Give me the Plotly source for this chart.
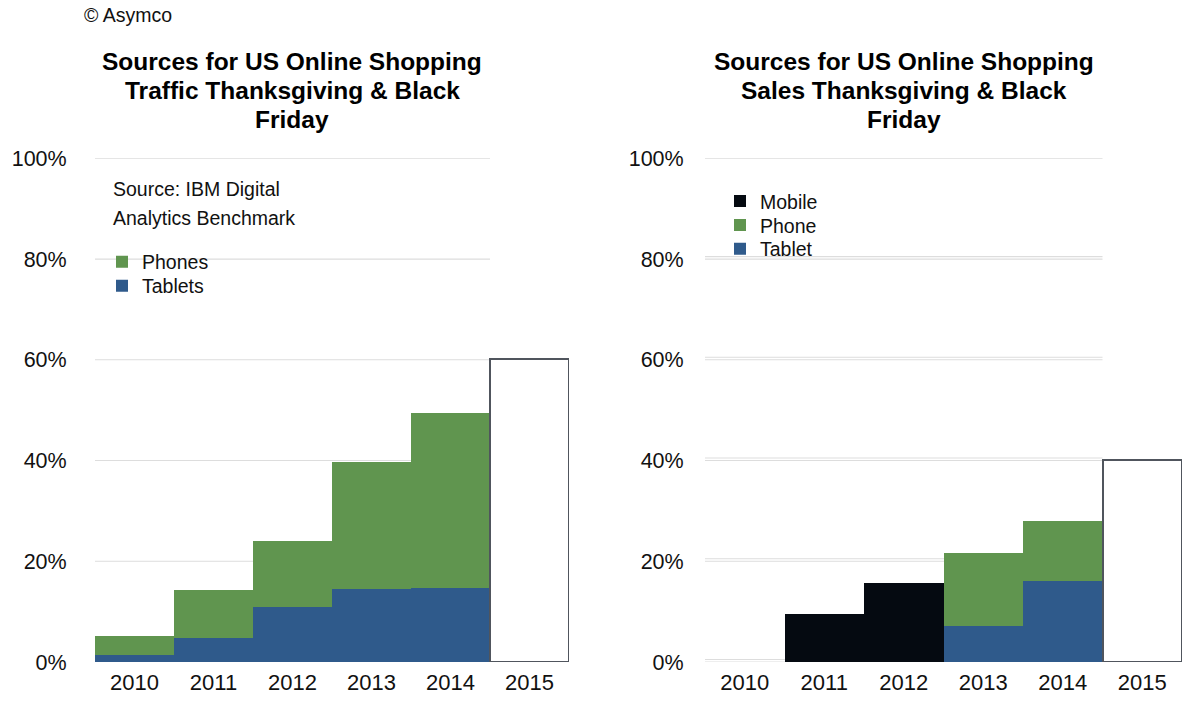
import plotly.graph_objects as go

years = ["2010", "2011", "2012", "2013", "2014", "2015"]

# Left chart: traffic share (%)
traffic_phones = [3.8, 9.4, 13.0, 25.1, 34.7, None]
traffic_tablets = [1.4, 4.8, 10.9, 14.5, 14.7, None]
traffic_2015 = [None, None, None, None, None, 60]

# Right chart: sales share (%)
sales_mobile = [None, 9.5, 15.7, None, None, None]
sales_phone = [None, None, None, 14.5, 11.8, None]
sales_tablet = [None, None, None, 7.1, 16.1, None]
sales_2015 = [None, None, None, None, None, 40]

grid_vals = [0, 20, 40, 60, 80, 100]
tick_text = ["0%", "20%", "40%", "60%", "80%", "100%"]

GREEN = "#60954f"
BLUE = "#2f5a8b"
BLACK = "#050a11"
OUTLINE = "#50555d"
FONT = "Liberation Sans, Arial, Helvetica, sans-serif"

fig = go.Figure()

# Left
fig.add_trace(go.Bar(x=years, y=traffic_tablets, name="Tablets", marker=dict(color=BLUE, line=dict(width=0)),
                     xaxis="x", yaxis="y", legend="legend2"))
fig.add_trace(go.Bar(x=years, y=traffic_phones, name="Phones", marker=dict(color=GREEN, line=dict(width=0)),
                     xaxis="x", yaxis="y", legend="legend"))
fig.add_trace(go.Bar(x=years, y=traffic_2015, name="2015", showlegend=False,
                     marker=dict(color="white", line=dict(color=OUTLINE, width=2.5)),
                     xaxis="x", yaxis="y"))

# Right
fig.add_trace(go.Bar(x=years, y=sales_mobile, name="Mobile", marker=dict(color=BLACK, line=dict(width=0)),
                     xaxis="x2", yaxis="y2", legend="legend3"))
fig.add_trace(go.Bar(x=years, y=sales_tablet, name="Tablet", marker=dict(color=BLUE, line=dict(width=0)),
                     xaxis="x2", yaxis="y2", legend="legend5"))
fig.add_trace(go.Bar(x=years, y=sales_phone, name="Phone", marker=dict(color=GREEN, line=dict(width=0)),
                     xaxis="x2", yaxis="y2", legend="legend4"))
fig.add_trace(go.Bar(x=years, y=sales_2015, name="2015", showlegend=False,
                     marker=dict(color="white", line=dict(color=OUTLINE, width=2.5)),
                     xaxis="x2", yaxis="y2"))

W, H = 1200, 703
ydom = [(H - 674) / H, (H - 152.5) / H]

shapes = []
for v in grid_vals:
    shapes.append(dict(type="line", xref="x", yref="y", x0=-0.5, x1=4.5, y0=v, y1=v,
                       line=dict(color="#dddddd", width=1.2), layer="below"))
    for off in (0, 2.5):
        shapes.append(dict(type="line", xref="x2", yref="y2", x0=-0.5, x1=4.5,
                           ysizemode="pixel", yanchor=v, y0=off, y1=off,
                           line=dict(color="#dddddd", width=1.2), layer="below"))

axis_common = dict(showgrid=False, zeroline=False, showline=False, fixedrange=True)


def leg(xpx, ypx):
    return dict(x=xpx / W, y=(H - ypx) / H, xanchor="left", yanchor="middle",
                bgcolor="rgba(0,0,0,0)", font=dict(size=19.5), itemclick=False)


def py(ypx):
    return (H - ypx) / H


title_font = dict(size=24.5, color="black")
annotations = [
    dict(text="© Asymco", x=82 / W, y=py(4), xref="paper", yref="paper",
         xanchor="left", yanchor="middle", showarrow=False, font=dict(size=19.5)),
]
for cx, lines in ((292, ["Sources for US Online Shopping", "Traffic Thanksgiving & Black", "Friday"]),
                  (904, ["Sources for US Online Shopping", "Sales Thanksgiving & Black", "Friday"])):
    for i, t in enumerate(lines):
        annotations.append(dict(text="<b>" + t + "</b>", x=cx / W, y=py(52.5 + 30 * i), xref="paper", yref="paper",
                                xanchor="center", yanchor="middle", showarrow=False, font=title_font))
for i, t in enumerate(["Source: IBM Digital", "Analytics Benchmark"]):
    annotations.append(dict(text=t, x=111 / W, y=py(184 + 30 * i), xref="paper", yref="paper",
                            xanchor="left", yanchor="middle", showarrow=False, font=dict(size=19.5)))

fig.update_layout(
    width=W, height=H,
    margin=dict(l=0, r=0, t=0, b=0),
    paper_bgcolor="white", plot_bgcolor="white",
    barmode="stack", bargap=0,
    font=dict(family=FONT, color="#111111", size=19.5),
    xaxis=dict(domain=[95 / W, 569 / W], range=[-0.5, 5.5], type="category",
               ticks="outside", ticklen=1, tickcolor="white", tickfont=dict(size=22), **axis_common),
    yaxis=dict(domain=ydom, range=[0, 100], tickvals=grid_vals, ticktext=tick_text,
               ticks="outside", ticklen=23, tickcolor="white", tickfont=dict(size=21.5), **axis_common),
    xaxis2=dict(domain=[705 / W, 1182 / W], range=[-0.5, 5.5], type="category", anchor="y2",
                ticks="outside", ticklen=1, tickcolor="white", tickfont=dict(size=22), **axis_common),
    yaxis2=dict(domain=ydom, range=[0, 100], tickvals=grid_vals, ticktext=tick_text, anchor="x2",
                ticks="outside", ticklen=16, tickcolor="white", tickfont=dict(size=21.5), **axis_common),
    shapes=shapes,
    legend=leg(102, 260),
    legend2=leg(102, 284.8),
    legend3=leg(720, 197),
    legend4=leg(720, 221.8),
    legend5=leg(720, 246.6),
    showlegend=True,
    annotations=annotations,
)

fig.write_html("out.html", post_script="document.body.style.margin='0';document.body.style.overflow='hidden';")
